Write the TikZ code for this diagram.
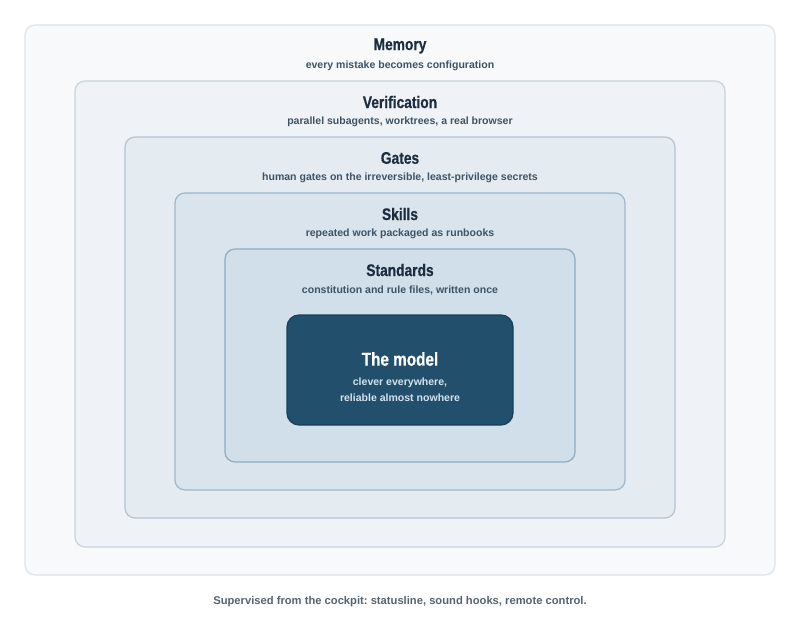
\documentclass[tikz,border=0pt]{standalone}
\usepackage{fontspec}
\setmainfont{Liberation Sans}
\newfontfamily\condbold[FakeStretch=0.82,FakeBold=0.6]{Liberation Sans Bold}
\frenchspacing
\definecolor{titleink}{HTML}{1B2D3E}
\definecolor{subink}{HTML}{3E5466}
\definecolor{fillA}{HTML}{F7F9FB}\definecolor{lineA}{HTML}{DFE3E7}
\definecolor{fillB}{HTML}{EFF3F7}\definecolor{lineB}{HTML}{C8D4DE}
\definecolor{fillC}{HTML}{E4EBF1}\definecolor{lineC}{HTML}{B3C4D2}
\definecolor{fillD}{HTML}{DAE4ED}\definecolor{lineD}{HTML}{A0B6C9}
\definecolor{fillE}{HTML}{D0DFEA}\definecolor{lineE}{HTML}{90ACC2}
\definecolor{fillM}{HTML}{224F6C}\definecolor{lineM}{HTML}{1A3F57}
\definecolor{subM}{HTML}{D3E2EE}
\begin{document}
\begin{tikzpicture}[x=0.75pt,y=-0.75pt,
  layer/.style={draw,line width=0.9pt,rounded corners=7.5pt,inner sep=0pt},
  ttl/.style={font=\condbold\fontsize{12.6}{14}\selectfont,text=titleink,inner sep=0pt,anchor=center},
  sub/.style={font=\bfseries\fontsize{7.9}{10}\selectfont,text=subink,inner sep=0pt,anchor=center}]
\useasboundingbox[fill=white] (0,0) rectangle (800,631);
% nested layers, outermost first
\node[layer,fill=fillA,draw=lineA,minimum width=750*0.75pt,minimum height=550*0.75pt] (memory) at (400,300) {};
\node[layer,fill=fillB,draw=lineB,minimum width=650*0.75pt,minimum height=466*0.75pt] (verif) at (400,314) {};
\node[layer,fill=fillC,draw=lineC,minimum width=550*0.75pt,minimum height=381*0.75pt] (gates) at (400,327.5) {};
\node[layer,fill=fillD,draw=lineD,minimum width=450*0.75pt,minimum height=297*0.75pt] (skills) at (400,341.5) {};
\node[layer,fill=fillE,draw=lineE,minimum width=350*0.75pt,minimum height=213*0.75pt] (standards) at (400,355.5) {};
\node[layer,fill=fillM,draw=lineM,rounded corners=9pt,minimum width=226*0.75pt,minimum height=110*0.75pt] (model) at (400,370) {};
% labels
\node[ttl] (tMemory) at (400,46) {Memory};
\node[sub] (sMemory) at (400,66) {every mistake becomes configuration};
\node[ttl] (tVerif) at (400,102) {Verification};
\node[sub] (sVerif) at (400,122) {parallel subagents, worktrees, a real browser};
\node[ttl] (tGates) at (400,158) {Gates};
\node[sub] (sGates) at (400,178) {human gates on the irreversible, least-privilege secrets};
\node[ttl] (tSkills) at (400,214) {Skills};
\node[sub] (sSkills) at (400,234) {repeated work packaged as runbooks};
\node[ttl] (tStandards) at (400,270) {Standards};
\node[sub] (sStandards) at (400,290) {constitution and rule files, written once};
\node[ttl,text=white,font=\condbold\fontsize{14}{16}\selectfont] (tModel) at (400,359) {The model};
\node[sub,text=subM,align=center,font=\bfseries\fontsize{7.9}{12}\selectfont] (sModel) at (400,390) {clever everywhere,\\reliable almost nowhere};
\node[sub,font=\bfseries\fontsize{8.4}{10}\selectfont,text=subink!90] (footer) at (400,602) {Supervised from the cockpit: statusline, sound hooks, remote control.};
\end{tikzpicture}
\end{document}
